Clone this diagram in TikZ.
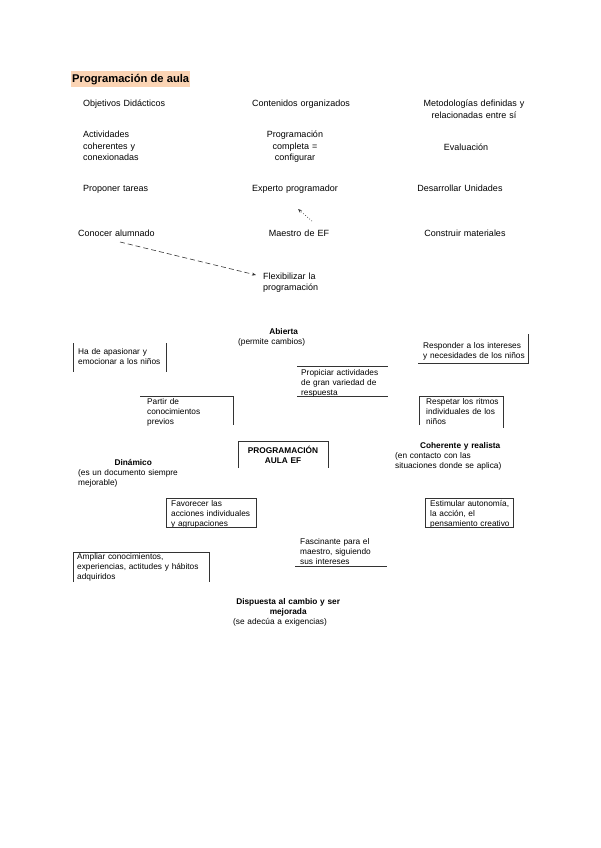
\documentclass[tikz,border=0pt]{standalone}
\usepackage{fontspec}
\setmainfont{Liberation Sans}
\usetikzlibrary{arrows.meta}
\definecolor{titlebg}{HTML}{FBD4B4}
\definecolor{inkline}{HTML}{333333}
\begin{document}
\begin{tikzpicture}[x=1pt,y=-1pt,
  titletxt/.style={inner xsep=1pt, inner ysep=1.5pt, text height=10pt, text depth=3pt, fill=titlebg, anchor=base west, font=\fontsize{11.2}{13}\selectfont\bfseries},
  up/.style={inner sep=0pt, font=\fontsize{9}{11.3}\selectfont},
  lo/.style={inner sep=0pt, font=\fontsize{8.3}{10.4}\selectfont},
  lt/.style={anchor=base west, text width=150pt, align=left},
  ct/.style={anchor=base, text width=150pt, align=center},
  boxline/.style={draw=inkline, line width=0.75pt},
  dotarrow/.style={draw=inkline, line width=0.7pt, dotted, -{Stealth[length=4pt,width=3.2pt]}},
  dasharrow/.style={draw=inkline, line width=0.6pt, dash pattern=on 5pt off 3pt, -{Stealth[length=4pt,width=3pt]}}]
\useasboundingbox (0,0) rectangle (600,848);

% title
\node[titletxt] (title) at (71,82.5) {Programación de aula};

% upper grid
\node[up,lt] (obj) at (83,107) {Objetivos Didácticos};
\node[up,ct] (cont) at (301,107) {Contenidos organizados};
\node[up,ct] (met) at (474,107) {Metodologías definidas y\\relacionadas entre sí};
\node[up,lt] (act) at (83,138) {Actividades\\coherentes y\\conexionadas};
\node[up,ct] (prog) at (295,138) {Programación\\completa =\\configurar};
\node[up,ct] (eval) at (466,150) {Evaluación};
\node[up,lt] (prop) at (83,191) {Proponer tareas};
\node[up,ct] (exp) at (295,191) {Experto programador};
\node[up,ct] (des) at (460,191) {Desarrollar Unidades};
\node[up,lt] (con) at (78,236) {Conocer alumnado};
\node[up,ct] (mae) at (299,236) {Maestro de EF};
\node[up,ct] (cons) at (465,236) {Construir materiales};
\node[up,lt] (flex) at (263,279) {Flexibilizar la\\programación};

\coordinate (maeout) at (312,221);
\coordinate (expin) at (298,209);
\draw[dotarrow] (maeout) -- (expin);
\coordinate (conout) at (120,242);
\coordinate (flexin) at (256,275);
\draw[dasharrow] (conout) -- (flexin);

% lower part
\node[lo,anchor=base west,text width=91pt,align=left] (abi) at (238,334) {\makebox[91pt]{\bfseries Abierta}\\(permite cambios)};

\node[lo,lt] (apa) at (78,354) {Ha de apasionar y\\emocionar a los niños};
\draw[boxline] (73,343) -- (73,372);
\draw[boxline] (166,343) -- (166,372);

\node[lo,lt] (resp) at (423,348) {Responder a los intereses\\y necesidades de los niños};
\draw[boxline] (528,334) -- (528,363) -- (418,363);

\node[lo,lt] (propi) at (301,375) {Propiciar actividades\\de gran variedad de\\respuesta};
\draw[boxline] (297,366) -- (388,366);
\draw[boxline] (297,396) -- (388,396);

\node[lo,lt] (partir) at (147,404) {Partir de\\conocimientos\\previos};
\draw[boxline] (140,396) -- (233,396) -- (233,425);

\node[lo,lt] (respe) at (426,404) {Respetar los ritmos\\individuales de los\\niños};
\draw[boxline] (419,425) -- (419,396) -- (503,396) -- (503,428);

\node[lo,ct,font=\fontsize{8.3}{10.6}\selectfont\bfseries] (pae) at (283,453) {PROGRAMACIÓN\\AULA EF};
\draw[boxline] (238,468) -- (238,441) -- (328,441) -- (328,468);

\node[lo,anchor=base west,text width=110pt,align=left] (din) at (78,465) {\makebox[110pt]{\bfseries Dinámico}\\(es un documento siempre\\mejorable)};

\node[lo,anchor=base west,text width=130pt,align=left] (coh) at (395,448) {\makebox[130pt]{\bfseries Coherente y realista}\\(en contacto con las\\situaciones donde se aplica)};

\node[lo,lt] (fav) at (171,506) {Favorecer las\\acciones individuales\\y agrupaciones};
\draw[boxline] (166,498) rectangle (256,527);

\node[lo,lt] (est) at (430,506) {Estimular autonomía,\\la acción, el\\pensamiento creativo};
\draw[boxline] (425,498) rectangle (513,527);

\node[lo,lt] (fas) at (300,544) {Fascinante para el\\maestro, siguiendo\\sus intereses};
\draw[boxline] (295,566) -- (387,566);

\node[lo,lt] (amp) at (77,559) {Ampliar conocimientos,\\experiencias, actitudes y hábitos\\adquiridos};
\draw[boxline] (73,582) -- (73,552) -- (209,552) -- (209,582);

\node[lo,anchor=base west,text width=110pt,align=left] (dis) at (233,604) {\makebox[110pt]{\bfseries Dispuesta al cambio y ser}\\\makebox[110pt]{\bfseries mejorada}\\(se adecúa a exigencias)};
\end{tikzpicture}
\end{document}
